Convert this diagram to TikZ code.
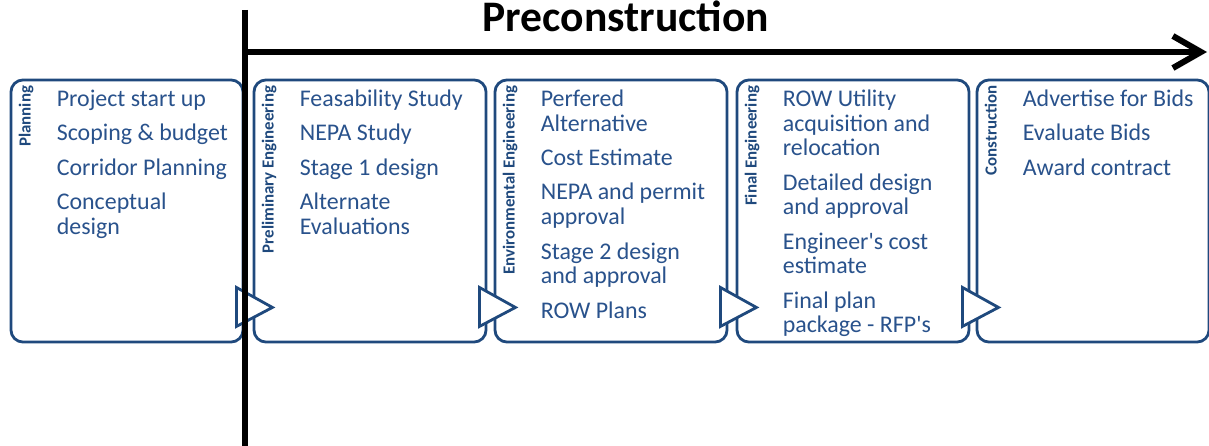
\documentclass[tikz,border=0pt]{standalone}
\usepackage{fontspec}
\setmainfont{Carlito}
\usepackage{xcolor}
\usepackage{tikz}
\usetikzlibrary{arrows.meta,positioning}

\definecolor{phaseblue}{RGB}{31,73,125}
\definecolor{itemblue}{RGB}{41,82,140}

\begin{document}
\begin{tikzpicture}[x=0.025cm, y=-0.025cm]
  % Styles for the phase boxes, their labels and the hand-off chevrons
  \tikzstyle{phase} = [rectangle, rounded corners=0.3cm, draw=phaseblue, line width=2pt, fill=white, minimum width=5.8cm, minimum height=6.55cm, inner sep=0pt]
  \tikzstyle{stage} = [rotate=90, anchor=north east, inner sep=0pt, text=phaseblue, font=\bfseries\fontsize{12}{14}\selectfont]
  \tikzstyle{tasks} = [anchor=north west, inner sep=0pt, align=left, text=itemblue, font=\fontsize{17}{17.5}\selectfont, execute at begin node=\strut]
  \tikzstyle{handoff} = [draw=phaseblue, line width=2pt, fill=white, line join=miter]
  \tikzstyle{milestone} = [line width=4.3pt, color=black]

  \useasboundingbox (0,0) rectangle (1209,446);

  % Phase boxes
  \node[phase] (planning) at (127,211) {};
  \node[phase] (prelim) at (370,211) {};
  \node[phase] (environ) at (611,211) {};
  \node[phase] (final) at (853,211) {};
  \node[phase] (construct) at (1093,211) {};

  % Hand-off chevrons between phases
  \draw[handoff] ([shift={(-8,-56)}]planning.south east) -- ([shift={(-8,-17)}]planning.south east) -- ([shift={(28,-36)}]planning.south east) -- cycle;
  \draw[handoff] ([shift={(-8,-56)}]prelim.south east) -- ([shift={(-8,-17)}]prelim.south east) -- ([shift={(28,-36)}]prelim.south east) -- cycle;
  \draw[handoff] ([shift={(-8,-56)}]environ.south east) -- ([shift={(-8,-17)}]environ.south east) -- ([shift={(28,-36)}]environ.south east) -- cycle;
  \draw[handoff] ([shift={(-8,-56)}]final.south east) -- ([shift={(-8,-17)}]final.south east) -- ([shift={(28,-36)}]final.south east) -- cycle;

  % Phase names, set sideways
  \node[stage] (planlabel) at ([shift={(9,7)}]planning.north west) {Planning};
  \node[stage] (prelimlabel) at ([shift={(9,7)}]prelim.north west) {Preliminary Engineering};
  \node[stage] (environlabel) at ([shift={(9,7)}]environ.north west) {Environmental Engineering};
  \node[stage] (finallabel) at ([shift={(9,7)}]final.north west) {Final Engineering};
  \node[stage] (constructlabel) at ([shift={(9,7)}]construct.north west) {Construction};

  % Tasks of each phase
  \node[tasks] (plantasks) at ([shift={(47,11)}]planning.north west) {Project start up\\[7pt]Scoping \& budget\\[7pt]Corridor Planning\\[7pt]Conceptual\\design};
  \node[tasks] (prelimtasks) at ([shift={(47,11)}]prelim.north west) {Feasability Study\\[7pt]NEPA Study\\[7pt]Stage 1 design\\[7pt]Alternate\\Evaluations};
  \node[tasks] (environtasks) at ([shift={(47,11)}]environ.north west) {Perfered\\Alternative\\[7pt]Cost Estimate\\[7pt]NEPA and permit\\approval\\[7pt]Stage 2 design\\and approval\\[7pt]ROW Plans};
  \node[tasks] (finaltasks) at ([shift={(47,11)}]final.north west) {ROW Utility\\acquisition and\\relocation\\[7pt]Detailed design\\and approval\\[7pt]Engineer\textquotesingle s cost\\estimate\\[7pt]Final plan\\package - RFP\textquotesingle s};
  \node[tasks] (constructtasks) at ([shift={(47,11)}]construct.north west) {Advertise for Bids\\[7pt]Evaluate Bids\\[7pt]Award contract};

  % Preconstruction milestone and time arrow
  \coordinate (gate top) at (245,10);
  \coordinate (gate foot) at (245,446);
  \coordinate (flow start) at (245,52);
  \coordinate (flow end) at (1207,52);
  \draw[milestone] (gate top) -- (gate foot);
  \draw[milestone, -{Straight Barb[length=0.7cm, width=0.8cm]}] (flow start) -- (flow end);

  \node[font=\bfseries\fontsize{31}{36}\selectfont, anchor=base] (title) at (626,32) {Preconstruction};
\end{tikzpicture}
\end{document}
